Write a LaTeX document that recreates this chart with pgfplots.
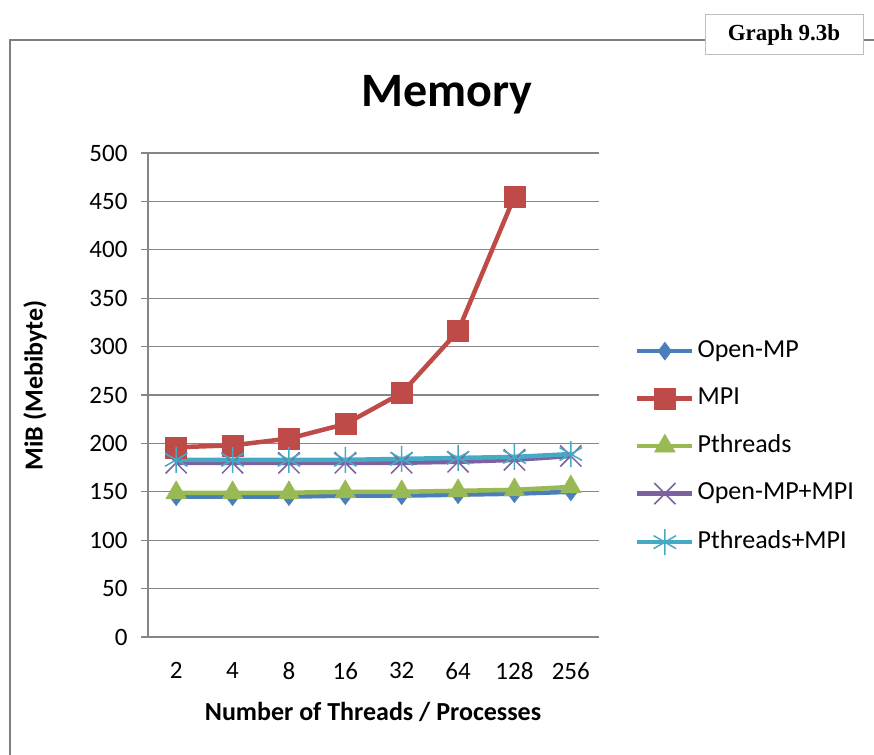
\documentclass[border=0pt]{standalone}
\usepackage{pgfplots}
\pgfplotsset{compat=1.18}
\usepackage{fontspec}
\setmainfont{Carlito}
\newfontfamily\timesfont{Liberation Serif}
\definecolor{cblue}{HTML}{4A7EBB}
\definecolor{cred}{HTML}{BE4B48}
\definecolor{cgreen}{HTML}{98B954}
\definecolor{cpurple}{HTML}{7D60A0}
\definecolor{ccyan}{HTML}{46AAC5}
\definecolor{gridgray}{HTML}{868686}
\definecolor{bordergray}{HTML}{7F7F7F}
\begin{document}
\begin{tikzpicture}[x=1pt,y=1pt]
\path[use as bounding box] (0,0) rectangle (874,754);
\draw[bordergray, line width=2.5pt] (10,-2) -- (10,714) -- (876,714);
\node[draw=black!25, fill=white, line width=1pt, minimum width=158pt, minimum height=40pt, inner sep=0pt] at (784,719) {\timesfont\bfseries\fontsize{23}{27}\selectfont Graph 9.3b};
\node at (447,659) {\bfseries\fontsize{48}{57}\selectfont Memory};
\begin{axis}[
  at={(148pt,117pt)}, anchor=south west,
  scale only axis, width=451pt, height=484pt,
  xmin=-0.5, xmax=7.5, ymin=0, ymax=500,
  ytick={0,50,...,500},
  xtick={0,...,7},
  xticklabels={2,4,8,16,32,64,128,256},
  axis x line*=bottom, axis y line*=left,
  axis line style={draw=gridgray, line width=1.2pt, -},
  ymajorgrids, grid style={draw=gridgray, line width=1.1pt},
  tick align=outside, major tick length=7pt,
  major y tick style={draw=gridgray, line width=1.1pt},
  major x tick style={draw=none},
  /pgf/number format/assume math mode=true,
  ticklabel style={font=\fontsize{25}{30}\selectfont},
  yticklabel style={xshift=-10pt},
  xticklabel style={yshift=-15pt},
  xlabel={Number of Threads / Processes},
  ylabel={MiB (Mebibyte)},
  label style={font=\bfseries\fontsize{26}{31}\selectfont},
  xlabel style={at={(axis description cs:0.499,-0.155)}, anchor=center},
  ylabel style={at={(axis description cs:-0.2506,0.52)}, anchor=center},
  legend style={at={(axis description cs:1.073,0.62)}, anchor=north west,
    draw=none, fill=none, font=\fontsize{26}{31}\selectfont,
    row sep=23.5pt, column sep=3pt,
    nodes={inner sep=0pt, text height=18pt, text depth=6pt}},
  legend cell align=left,
  legend image code/.code={\draw[mark repeat=2,mark phase=2] plot coordinates {(0pt,0pt) (27.5pt,0pt) (55pt,0pt)};},
  every axis plot/.append style={line width=4.5pt, line join=round},
]
\addplot[cblue, mark=diamond*, mark size=9pt, mark options={solid, line width=0.5pt, fill=cblue}]
  coordinates {(0,145) (1,145) (2,145) (3,146) (4,146) (5,147) (6,148) (7,150)};
\addlegendentry{Open-MP}
\addplot[cred, mark=square*, mark size=10.5pt, mark options={solid, line width=0.5pt, fill=cred}]
  coordinates {(0,196) (1,198) (2,205) (3,220) (4,252) (5,316) (6,455)};
\addlegendentry{MPI}
\addplot[cgreen, mark=triangle*, mark size=12pt, mark options={solid, line width=0.5pt, fill=cgreen}]
  coordinates {(0,149) (1,149) (2,149) (3,150) (4,150) (5,151) (6,152) (7,155)};
\addlegendentry{Pthreads}
\addplot[cpurple, mark=x, mark size=15pt, mark options={solid, line width=1.5pt}]
  coordinates {(0,180) (1,180) (2,180) (3,180) (4,180) (5,181) (6,183) (7,187)};
\addlegendentry{Open-MP+MPI}
\addplot[ccyan, mark=asterisk, mark size=13pt, mark options={solid, line width=1.5pt}]
  coordinates {(0,183) (1,183) (2,183) (3,183) (4,184) (5,185) (6,186) (7,189)};
\addlegendentry{Pthreads+MPI}
\end{axis}
\end{tikzpicture}
\end{document}
